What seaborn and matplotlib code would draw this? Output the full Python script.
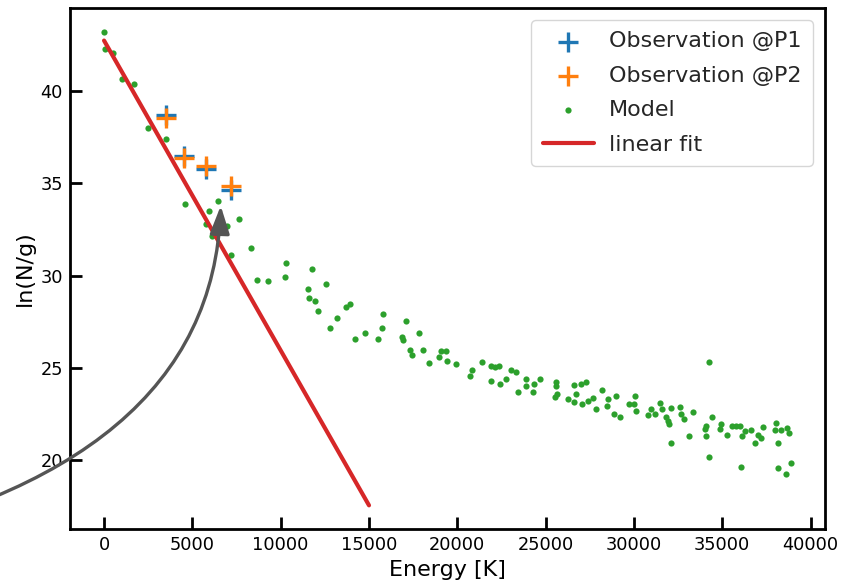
import matplotlib
matplotlib.use("Agg")
import matplotlib.pyplot as plt
import seaborn as sns
import pandas as pd

# ---------------- data ----------------
obs_energy = [3490, 4510, 5800, 7210]
obs_p1 = [38.70, 36.49, 35.77, 34.65]
obs_p2 = [38.52, 36.35, 35.91, 34.86]

model_energy = [
    0, 80, 510, 1020, 1680, 2490, 3490, 4570, 5945, 6475, 5795, 6985, 7620, 6115,
    8330, 7210, 10325, 11775, 8640, 9295, 10230,
    11540, 11625, 11965, 12100, 12550, 12775, 13175, 13720, 13910, 14230, 14760,
    15530, 15720, 15780, 16890, 16930, 17120, 17305, 17420, 17815, 18080, 18380,
    18965, 19060, 19385, 19440, 19910, 20700, 20835, 21400, 21930, 21930, 22155,
    22360, 22400, 22740, 23060, 23305, 23435, 23910, 23910, 24285, 24365, 24665,
    25610, 25570, 25645, 25515, 26270, 26610, 26745, 26590, 26985, 27270, 27080,
    27400, 27680, 27875, 28175, 28530, 28475, 28870, 29195, 29005, 29720, 30040,
    29985, 30140, 30795, 30985, 31175, 31460, 31610, 31800, 31930, 31985, 32120,
    32120, 32590, 32685, 32815, 33100, 33345, 34230, 34100, 34005, 34100, 34230,
    34440, 34950, 34895, 35270, 35550, 35800, 36025, 36045, 36140, 36270, 36650,
    36835, 37025, 37215, 37305, 38025, 37965, 38155, 38155, 38345, 38590, 38665,
    38760, 38875,
]
model_value = [
    43.20, 42.25, 42.07, 40.63, 40.38, 37.98, 37.39, 33.89, 33.48, 34.02, 32.81, 32.66, 33.08, 32.16,
    31.50, 31.12, 30.69, 30.36, 29.75, 29.70, 29.95,
    29.26, 28.81, 28.65, 28.11, 29.53, 27.14, 27.71, 28.31, 28.47, 26.59, 26.90,
    26.59, 27.17, 27.93, 26.66, 26.50, 27.57, 25.96, 25.73, 26.90, 25.96, 25.26,
    25.58, 25.91, 25.93, 25.39, 25.24, 24.56, 24.90, 25.35, 25.10, 24.29, 25.06,
    25.10, 24.12, 24.42, 24.88, 24.81, 23.71, 24.38, 24.05, 23.71, 24.15, 24.38,
    24.25, 24.02, 23.60, 23.42, 23.30, 24.09, 23.60, 23.15, 24.15, 24.25, 23.03,
    23.24, 23.37, 22.76, 23.80, 23.34, 22.97, 22.52, 22.36, 23.48, 23.03, 23.48,
    23.03, 22.66, 22.45, 22.76, 22.52, 23.12, 22.76, 22.36, 22.12, 21.98, 22.85,
    20.92, 22.90, 22.49, 22.22, 21.31, 22.63, 25.31, 21.85, 21.68, 21.31, 20.20,
    22.36, 21.98, 21.68, 21.35, 21.89, 21.89, 21.85, 19.64, 21.31, 21.59, 21.64,
    20.92, 21.35, 21.23, 21.80, 22.04, 21.64, 20.92, 19.57, 21.62, 19.24, 21.76,
    21.49, 19.87,
]

fit_energy = [0, 15000]
fit_value = [42.72, 17.57]

x_ticks = [0, 5000, 10000, 15000, 20000, 25000, 30000, 35000, 40000]
y_ticks = [20, 25, 30, 35, 40]

# ---------------- style ----------------
sns.set_style("ticks")
plt.rcParams.update({
    "font.family": ["DejaVu Sans"],
    "axes.linewidth": 2.0,
    "axes.edgecolor": "black",
    "xtick.direction": "in",
    "ytick.direction": "in",
    "xtick.major.size": 8.5,
    "ytick.major.size": 8.5,
    "xtick.major.width": 2.0,
    "ytick.major.width": 2.0,
    "xtick.labelsize": 12.8,
    "ytick.labelsize": 12.8,
    "xtick.major.pad": 5,
    "ytick.major.pad": 5,
    "xtick.color": "black",
    "ytick.color": "black",
    "axes.labelsize": 16,
    "axes.labelcolor": "black",
    "legend.fontsize": 16,
})

fig = plt.figure(figsize=(8.41, 5.80), dpi=100)
ax = fig.add_axes([0.0829, 0.0879, 0.8981, 0.8983])

model_df = pd.DataFrame({"Energy": model_energy, "value": model_value})
fit_df = pd.DataFrame({"Energy": fit_energy, "value": fit_value})

sns.scatterplot(x=obs_energy, y=obs_p1, ax=ax, marker="+", s=210, color="#1f77b4",
                linewidth=2.4, label="Observation @P1", zorder=3)
sns.scatterplot(x=obs_energy, y=obs_p2, ax=ax, marker="+", s=210, color="#ff7f0e",
                linewidth=2.4, label="Observation @P2", zorder=3)
sns.scatterplot(data=model_df, x="Energy", y="value", ax=ax, s=20, color="#2ca02c",
                linewidth=0, label="Model", zorder=3)
sns.lineplot(data=fit_df, x="Energy", y="value", ax=ax, color="#d62728", lw=3.0,
             label="linear fit", zorder=4)

ax.set_xticks(x_ticks)
ax.set_yticks(y_ticks)
ax.margins(0.05)
ax.set_xlabel("Energy [K]")
ax.set_ylabel("ln(N/g)")
ax.tick_params(top=False, right=False)

ax.annotate("", xy=(6606, 33.78), xytext=(-16040, 15.3), xycoords="data",
            textcoords="data", annotation_clip=False,
            arrowprops=dict(arrowstyle="-|>,head_length=0.85,head_width=0.3",
                            mutation_scale=20, color="#555555", lw=2.4,
                            shrinkA=0, shrinkB=0,
                            connectionstyle="angle3,angleA=11,angleB=88"),
            zorder=5)

leg = ax.legend(loc="upper right", handlelength=2.3, handletextpad=0.7,
                labelspacing=0.65, borderaxespad=0.55, borderpad=0.5,
                frameon=True)

fig.savefig("out.png", dpi=100)
